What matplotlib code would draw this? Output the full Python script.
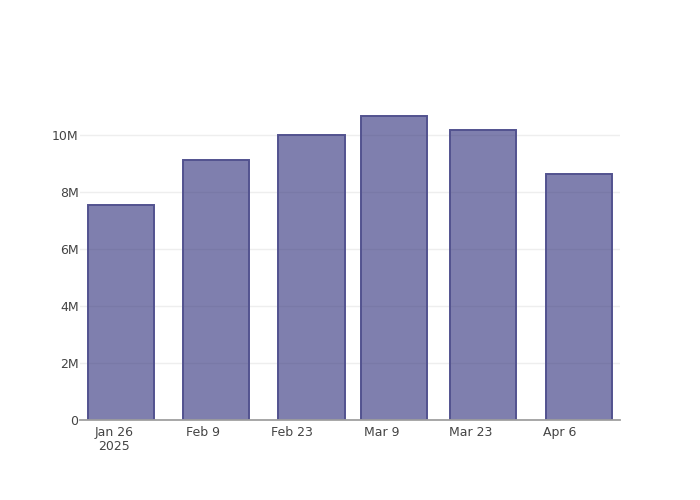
import matplotlib
matplotlib.use("Agg")
import matplotlib.pyplot as plt
import matplotlib.dates as mdates
import numpy as np
import datetime as dt

dates = ["2025-01-27", "2025-02-11", "2025-02-26", "2025-03-11", "2025-03-25", "2025-04-09"]
values = [7.56e6, 9.12e6, 10.01e6, 10.68e6, 10.17e6, 8.65e6]
y_ticks = [0, 2e6, 4e6, 6e6, 8e6, 10e6]
y_labels = ["0", "2M", "4M", "6M", "8M", "10M"]
x_ticks = ["2025-01-26", "2025-02-09", "2025-02-23", "2025-03-09", "2025-03-23", "2025-04-06"]
x_labels = ["Jan 26\n2025", "Feb 9", "Feb 23", "Mar 9", "Mar 23", "Apr 6"]

plt.rcParams['font.family'] = ['DejaVu Sans']
fig = plt.figure(figsize=(7, 5), dpi=100)
ax = fig.add_axes([80/700, 80/500, 540/700, 320/500])

xd = mdates.date2num([dt.datetime.fromisoformat(d) for d in dates])
xt = mdates.date2num([dt.datetime.fromisoformat(d) for d in x_ticks])

ax.set_axisbelow(True)
ax.grid(axis='y', color='#eeeeee', linewidth=1)
ax.bar(xd, values, width=10.4, facecolor=(55/255, 55/255, 128/255, 0.64),
       edgecolor='#52528f', linewidth=1.4, zorder=3)

ax.set_xlim(xt[0] - 5.39, xt[0] + 79.5)
ax.set_ylim(0, 11.23e6)
ax.set_yticks(y_ticks)
ax.set_yticklabels(y_labels)
ax.set_xticks(xt)
ax.set_xticklabels(x_labels, linespacing=1.1)
ax.tick_params(axis='both', length=0, labelsize=9, labelcolor='#444444')
ax.tick_params(axis='x', pad=4)
ax.tick_params(axis='y', pad=1)
for s in ['top', 'right', 'left']:
    ax.spines[s].set_visible(False)
ax.spines['bottom'].set_color('#a0a0a0')
ax.spines['bottom'].set_linewidth(1.3)
ax.spines['bottom'].set_zorder(4)

fig.savefig("out.png", dpi=100)
